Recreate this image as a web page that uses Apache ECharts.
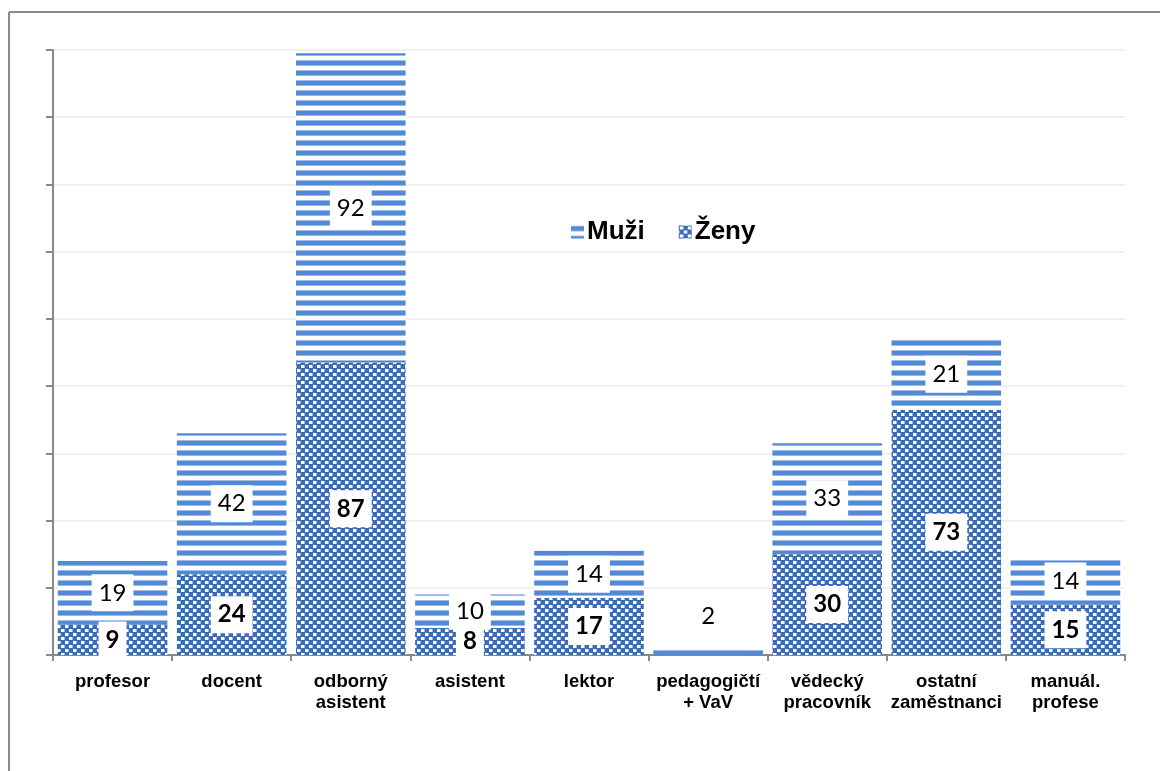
<!DOCTYPE html>
<html>
<head>
<meta charset="utf-8">
<script src="https://cdn.jsdelivr.net/npm/echarts@6/dist/echarts.min.js"></script>
<style>
html,body{margin:0;padding:0;background:#fff;}
#chart{width:1172px;height:771px;}
</style>
</head>
<body>
<div id="chart"></div>
<script>
const categories = ['profesor', 'docent', 'odborný\nasistent', 'asistent', 'lektor', 'pedagogičtí\n+ VaV', 'vědecký\npracovník', 'ostatní\nzaměstnanci', 'manuál.\nprofese'];
const zeny = [9, 24, 87, 8, 17, 0, 30, 73, 15];
const muzi = [19, 42, 92, 10, 14, 2, 33, 21, 14];

function stripePattern() {
  const c = document.createElement('canvas');
  c.width = 10; c.height = 10;
  const g = c.getContext('2d');
  g.fillStyle = '#ffffff'; g.fillRect(0, 0, 10, 10);
  g.fillStyle = '#9fbbe9'; g.fillRect(0, 0, 10, 1);
  g.fillStyle = '#538ad6'; g.fillRect(0, 1, 10, 4);
  g.fillStyle = '#98b8e8'; g.fillRect(0, 5, 10, 1);
  return c;
}
function checkerPattern() {
  const c = document.createElement('canvas');
  c.width = 8; c.height = 8;
  const g = c.getContext('2d');
  g.fillStyle = '#3d6cb3'; g.fillRect(0, 0, 8, 8);
  g.fillStyle = '#ffffff';
  g.fillRect(1, 1, 3, 3);
  g.fillRect(5, 5, 3, 3);
  g.fillStyle = '#9db6dc';
  g.fillRect(4, 1, 1, 3); g.fillRect(0, 5, 1, 3);
  return c;
}

const chart = echarts.init(document.getElementById('chart'));
const labelBase = {
  show: true,
  position: 'inside',
  color: '#000',
  fontFamily: 'Lato, "Open Sans", sans-serif',
  fontSize: 24,
  backgroundColor: '#fff',
  padding: [7, 7, 6, 7]
};
chart.setOption({
  animation: false,
  backgroundColor: '#fff',
  grid: { left: 53, right: 47, top: 50, bottom: 116 },
  legend: {
    data: ['Muži', 'Ženy'],
    left: 566, top: 214,
    itemWidth: 13, itemHeight: 13, itemGap: 34,
    icon: 'rect',
    textStyle: { fontFamily: '"Liberation Sans", Arial, sans-serif', fontWeight: 'bold', fontSize: 26, color: '#000', padding: [0, 0, 0, -2] }
  },
  xAxis: {
    type: 'category',
    data: categories,
    axisLine: { lineStyle: { color: '#888', width: 2 } },
    axisTick: { show: true, length: 6, lineStyle: { color: '#888', width: 2 } },
    axisLabel: { color: '#000', fontFamily: '"Liberation Sans", Arial, sans-serif', fontWeight: 'bold', fontSize: 18.5, lineHeight: 21, margin: 16, interval: 0 }
  },
  yAxis: {
    type: 'value', min: 0, max: 180, interval: 20,
    axisLine: { show: true, lineStyle: { color: '#888', width: 2 } },
    axisTick: { show: true, length: 7, lineStyle: { color: '#888', width: 2 } },
    axisLabel: { show: false },
    splitLine: { lineStyle: { color: '#ebebeb', width: 1.5 } }
  },
  series: [
    {
      name: 'Ženy', type: 'bar', stack: 't', barCategoryGap: '8%',
      data: zeny.map(v => ({ value: v, label: { show: v > 0 } })),
      itemStyle: { color: { image: checkerPattern(), repeat: 'repeat' } },
      label: Object.assign({}, labelBase, { fontWeight: 'bold' })
    },
    {
      name: 'Muži', type: 'bar', stack: 't', barCategoryGap: '8%',
      data: muzi.map((v, i) => i === 5
        ? { value: v, label: { position: 'top', distance: 14 } }
        : v),
      itemStyle: { color: { image: stripePattern(), repeat: 'repeat' } },
      label: Object.assign({}, labelBase)
    }
  ],
  graphic: [
    { type: 'line', shape: { x1: 9, y1: 12, x2: 1160, y2: 12 }, style: { stroke: '#8a8a8a', lineWidth: 2 }, silent: true },
    { type: 'line', shape: { x1: 9, y1: 12, x2: 9, y2: 771 }, style: { stroke: '#8a8a8a', lineWidth: 2 }, silent: true }
  ]
});
</script>
</body>
</html>
